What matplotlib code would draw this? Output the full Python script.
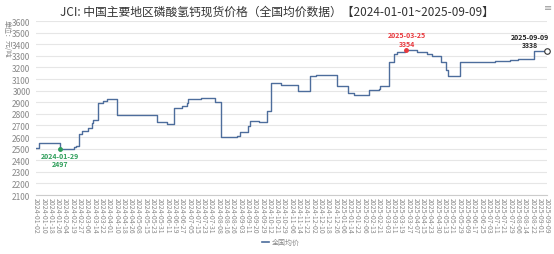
import numpy as np
import pandas as pd
import matplotlib
matplotlib.use('Agg')
import matplotlib.pyplot as plt

plt.rcParams['font.family'] = ['Noto Sans CJK SC', 'DejaVu Sans']

# x-axis category labels (every 6th trading day)
tick_labels = [
    '2024-01-02', '2024-01-10', '2024-01-18', '2024-01-26', '2024-02-04', '2024-02-19',
    '2024-02-27', '2024-03-06', '2024-03-14', '2024-03-22', '2024-04-01', '2024-04-10',
    '2024-04-18', '2024-04-26', '2024-05-08', '2024-05-15', '2024-05-23', '2024-05-31',
    '2024-06-11', '2024-06-19', '2024-06-27', '2024-07-05', '2024-07-15', '2024-07-23',
    '2024-07-31', '2024-08-08', '2024-08-16', '2024-08-26', '2024-09-03', '2024-09-11',
    '2024-09-20', '2024-09-29', '2024-10-12', '2024-10-21', '2024-10-29', '2024-11-06',
    '2024-11-14', '2024-11-22', '2024-12-02', '2024-12-10', '2024-12-18', '2024-12-26',
    '2025-01-06', '2025-01-14', '2025-01-22', '2025-02-06', '2025-02-13', '2025-02-21',
    '2025-03-03', '2025-03-11', '2025-03-19', '2025-03-27', '2025-04-07', '2025-04-15',
    '2025-04-23', '2025-04-30', '2025-05-13', '2025-05-21', '2025-05-29', '2025-06-09',
    '2025-06-17', '2025-06-25', '2025-07-03', '2025-07-11', '2025-07-21', '2025-07-29',
    '2025-08-06', '2025-08-14', '2025-08-22', '2025-09-01', '2025-09-09',
]

# price change points (date, 元/吨), held until next change
change_dates = [
    '2024-01-02', '2024-01-05', '2024-01-29', '2024-02-21', '2024-02-23', '2024-02-26',
    '2024-02-29', '2024-03-07', '2024-03-11', '2024-03-12', '2024-03-18', '2024-03-24',
    '2024-03-29', '2024-04-11', '2024-05-28', '2024-06-11', '2024-06-18', '2024-06-27',
    '2024-07-02', '2024-07-04', '2024-07-20', '2024-08-04', '2024-08-11', '2024-08-30',
    '2024-09-03', '2024-09-11', '2024-09-14', '2024-09-25', '2024-10-08', '2024-10-14',
    '2024-10-25', '2024-11-13', '2024-11-27', '2024-12-05', '2024-12-28', '2025-01-12',
    '2025-01-18', '2025-02-10', '2025-02-21', '2025-02-22', '2025-03-06', '2025-03-11',
    '2025-03-15', '2025-03-23', '2025-04-09', '2025-04-15', '2025-04-20', '2025-04-25',
    '2025-05-07', '2025-05-14', '2025-05-17', '2025-05-30', '2025-07-10', '2025-07-28',
    '2025-08-06', '2025-08-24', '2025-09-09',
]
change_values = [
    2505, 2550, 2497, 2515, 2525, 2630,
    2650, 2677, 2720, 2743, 2890, 2911,
    2929, 2791, 2729, 2711, 2851, 2871,
    2891, 2929, 2940, 2900, 2597, 2609,
    2643, 2694, 2737, 2729, 2823, 3063,
    3051, 2997, 3123, 3134, 3043, 2976,
    2962, 3002, 3010, 3043, 3244, 3316,
    3336, 3354, 3330, 3336, 3318, 3295,
    3244, 3178, 3129, 3250, 3256, 3264,
    3275, 3338, 3338,
]

min_date, min_value = '2024-01-29', 2497
max_date, max_value = '2025-03-25', 3354
last_date, last_value = '2025-09-09', 3338

tick_ord = pd.to_datetime(tick_labels).values.astype('int64')


def to_pos(dates):
    d = pd.to_datetime(dates).values.astype('int64')
    return np.interp(d, tick_ord, np.arange(len(tick_labels)))


fig = plt.figure(figsize=(5.54, 2.55), dpi=100)
ax = fig.add_axes([36 / 554, 1 - 196 / 255, 511 / 554, 174 / 255])

line_color = '#4d6d9c'
ax.step(to_pos(change_dates), change_values, where='post',
        color=line_color, linewidth=1.0, zorder=3)

# grid / axes
ax.set_ylim(2100, 3600)
ax.set_xlim(0, len(tick_labels) - 1)
ax.set_yticks(np.arange(2100, 3601, 100))
ax.grid(axis='y', color='#e6e6e6', linewidth=0.8)
for s in ['top', 'right', 'left']:
    ax.spines[s].set_visible(False)
ax.spines['bottom'].set_color('#cccccc')
ax.spines['bottom'].set_linewidth(0.8)
ax.tick_params(axis='y', length=0, labelsize=6, labelcolor='#888888', pad=4)
ax.set_xticks(np.arange(len(tick_labels)))
ax.set_xticklabels(tick_labels, rotation=-90, fontsize=5, color='#888888')
ax.tick_params(axis='x', length=0, pad=1.5)

# annotations
mx = to_pos([min_date])[0]
ax.plot(mx, min_value, 'o', color='#2e9e5a', markersize=2.5, zorder=4)
ax.text(mx, min_value - 25, f'{min_date}\n{min_value}', color='#2e9e5a',
        fontsize=5, fontweight='bold', ha='center', va='top', linespacing=1.2)

px = to_pos([max_date])[0]
ax.plot(px, max_value, 'o', color='#e8383d', markersize=2.5, zorder=4)
ax.text(px, max_value + 25, f'{max_date}\n{max_value}', color='#e8383d',
        fontsize=5, fontweight='bold', ha='center', va='bottom', linespacing=1.2)

lx = to_pos([last_date])[0]
ax.plot(lx, last_value, 'o', markerfacecolor='white', markeredgecolor='#333333',
        markersize=4, markeredgewidth=0.8, zorder=4, clip_on=False)
ax.text(lx - 2.3, last_value + 25, f'{last_date}\n{last_value}', color='#222222',
        fontsize=5, fontweight='bold', ha='center', va='bottom', linespacing=1.2)

# title, unit label, legend, menu
fig.text(0.5, 1 - 12 / 255,
         'JCI: 中国主要地区磷酸氢钙现货价格（全国均价数据）【2024-01-01~2025-09-09】',
         ha='center', va='center', fontsize=8.5, color='#333333')
fig.text(7 / 554, 1 - 20 / 255, '单位：元/吨', rotation=-90, ha='center', va='top',
         fontsize=5, color='#888888')
fig.lines.append(plt.Line2D([262 / 554, 269 / 554], [1 - 243 / 255, 1 - 243 / 255],
                            transform=fig.transFigure, color=line_color, linewidth=1.2))
fig.text(272 / 554, 1 - 243 / 255, '全国均价', ha='left', va='center',
         fontsize=5, color='#888888')
fig.text(548 / 554, 1 - 8 / 255, '≡', ha='center', va='center',
         fontsize=7, color='#999999', family=['DejaVu Sans'])

fig.savefig('out.png', dpi=100)
